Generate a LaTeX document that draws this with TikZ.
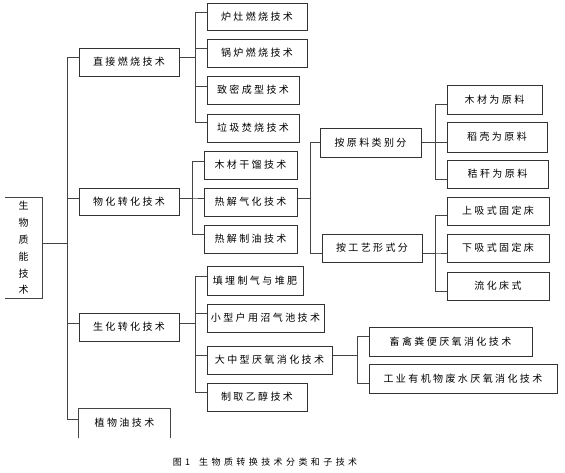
\documentclass[tikz,border=0pt]{standalone}
\usepackage{fontspec}
\usepackage{tikz}
\usetikzlibrary{positioning}
\newfontfamily\cjk[LetterSpace=24]{Noto Sans CJK SC}
\newfontfamily\capfont[LetterSpace=38]{Noto Sans CJK SC}
\definecolor{LineA}{HTML}{333333}
\definecolor{LineB}{HTML}{444444}
\tikzset{
  box/.style={draw=LineA, line width=1pt, inner sep=0pt, align=center,
              font=\cjk\fontsize{10}{12}\selectfont, minimum height=28pt},
  ln/.style={draw=LineB, line width=1pt},
}

\begin{document}
\begin{tikzpicture}[x=1pt, y=-1pt]
  \useasboundingbox (0,0) rectangle (565,472);

  % root (open on the left)
  \node[box, draw=none, minimum width=37pt, minimum height=100pt,
        font=\cjk\fontsize{10}{16.8}\selectfont] (root) at (23.5,248)
        {生\\物\\质\\能\\技\\术};
  \draw[ln] (root.north west) -- (root.north east) -- (root.south east) -- (root.south west);

  % first level
  \node[box, minimum width=100pt] (zjrs) at (129,62)  {直接燃烧技术};
  \node[box, minimum width=100pt, minimum height=27pt] (whzh) at (129,202) {物化转化技术};
  \node[box, minimum width=100pt] (shzh) at (129,327) {生化转化技术};
  \node[box, draw=none, minimum width=91pt] (zwy) at (124.5,423) {植物油技术};
  \draw[ln] (zwy.south west) -- (zwy.north west) -- (zwy.north east) -- (zwy.south east);

  % direct combustion
  \node[box, minimum width=100pt, minimum height=27pt] (lz) at (257,16.5) {炉灶燃烧技术};
  \node[box, minimum width=100pt] (gl) at (257,53)  {锅炉燃烧技术};
  \node[box, minimum width=92pt]  (zm) at (253,90)  {致密成型技术};
  \node[box, minimum width=92pt]  (lj) at (253,128) {垃圾焚烧技术};

  % thermochemical
  \node[box, minimum width=93pt] (mcgl) at (250.5,165) {木材干馏技术};
  \node[box, minimum width=93pt] (rjqh) at (250.5,202) {热解气化技术};
  \node[box, minimum width=93pt] (rjzy) at (250.5,239) {热解制油技术};

  \node[box, minimum width=101pt, minimum height=29pt] (ylfl) at (370.5,142.5) {按原料类别分};
  \node[box, minimum width=100pt] (gyfl) at (372,248) {按工艺形式分};

  \node[box, minimum width=95pt, minimum height=29pt]  (mcyl) at (494.5,99.5) {木材为原料};
  \node[box, minimum width=100pt, minimum height=30pt] (dkyl) at (497,137)   {稻壳为原料};
  \node[box, minimum width=101pt] (jgyl) at (497.5,174) {秸秆为原料};
  \node[box, minimum width=102pt] (sxs) at (498,211) {上吸式固定床};
  \node[box, minimum width=102pt] (xxs) at (498,248) {下吸式固定床};
  \node[box, minimum width=102pt] (lhc) at (498,286) {流化床式};

  % biochemical
  \node[box, minimum width=96pt, minimum height=29pt] (tm) at (255,280.5) {填埋制气与堆肥};
  \node[box, minimum width=117pt] (xx)  at (265.5,318) {小型户用沼气池技术};
  \node[box, minimum width=125pt] (dzx) at (269.5,360) {大中型厌氧消化技术};
  \node[box, minimum width=100pt] (yc)  at (257,397)   {制取乙醇技术};
  \node[box, minimum width=163pt, minimum height=29pt] (xq) at (450.5,341.5) {畜禽粪便厌氧消化技术};
  \node[box, minimum width=188pt, minimum height=29pt] (gy) at (463,378.5)   {工业有机物废水厌氧消化技术};

  % caption
  \node[inner sep=0pt, font=\capfont\fontsize{9}{11}\selectfont] (cap) at (265,462)
        {图1\hspace{9pt}生物质转换技术分类和子技术};

  % trunk
  \draw[ln] ([yshift=5pt]root.east) -- ++(25,0) |- ([yshift=5pt]zjrs.west);
  \draw[ln] ([yshift=5pt]root.east) -- ++(25,0) |- ([yshift=4pt]whzh.west);
  \draw[ln] ([yshift=5pt]root.east) -- ++(25,0) |- ([yshift=4pt]shzh.west);
  \draw[ln] ([yshift=5pt]root.east) -- ++(25,0) |- ([yshift=4pt]zwy.west);

  \draw[ln] ([yshift=5pt]zjrs.east) -- ++(16,0) |- ([yshift=4.5pt]lz.west);
  \draw[ln] ([yshift=5pt]zjrs.east) -- ++(16,0) |- ([yshift=5pt]gl.west);
  \draw[ln] ([yshift=5pt]zjrs.east) -- ++(16,0) |- ([yshift=4pt]zm.west);
  \draw[ln] ([yshift=5pt]zjrs.east) -- ++(16,0) |- ([yshift=6pt]lj.west);

  \draw[ln] ([yshift=4pt]whzh.east) -- ++(13,0) |- ([yshift=4pt]mcgl.west);
  \draw[ln] ([yshift=4pt]whzh.east) -- ++(13,0) |- ([yshift=4pt]rjqh.west);
  \draw[ln] ([yshift=4pt]whzh.east) -- ++(13,0) |- ([yshift=5pt]rjzy.west);

  \draw[ln] ([yshift=4pt]rjqh.east) -- ++(13,0) |- (ylfl.west);
  \draw[ln] ([yshift=4pt]rjqh.east) -- ++(13,0) |- ([yshift=-5pt]gyfl.west);

  \draw[ln] (ylfl.east) -- ++(14,0) |- ([yshift=-4.5pt]mcyl.west);
  \draw[ln] (ylfl.east) -- ++(14,0) |- ([yshift=-5pt]dkyl.west);
  \draw[ln] (ylfl.east) -- ++(14,0) |- ([yshift=-5pt]jgyl.west);

  \draw[ln] ([yshift=-5pt]gyfl.east) -- ++(13,0) |- ([yshift=-4pt]sxs.west);
  \draw[ln] ([yshift=-5pt]gyfl.east) -- ++(13,0) |- ([yshift=-5pt]xxs.west);
  \draw[ln] ([yshift=-5pt]gyfl.east) -- ++(13,0) |- ([yshift=-5pt]lhc.west);

  \draw[ln] ([yshift=4pt]shzh.east) -- ++(16,0) |- ([yshift=4.5pt]tm.west);
  \draw[ln] ([yshift=4pt]shzh.east) -- ++(16,0) |- ([yshift=5pt]xx.west);
  \draw[ln] ([yshift=4pt]shzh.east) -- ++(16,0) |- ([yshift=5pt]dzx.west);
  \draw[ln] ([yshift=4pt]shzh.east) -- ++(16,0) |- ([yshift=5pt]yc.west);

  \draw[ln] ([yshift=5pt]dzx.east) -- ++(25,0) |- ([yshift=5.5pt]xq.west);
  \draw[ln] ([yshift=5pt]dzx.east) -- ++(25,0) |- ([yshift=-4.5pt]gy.west);
\end{tikzpicture}
\end{document}
